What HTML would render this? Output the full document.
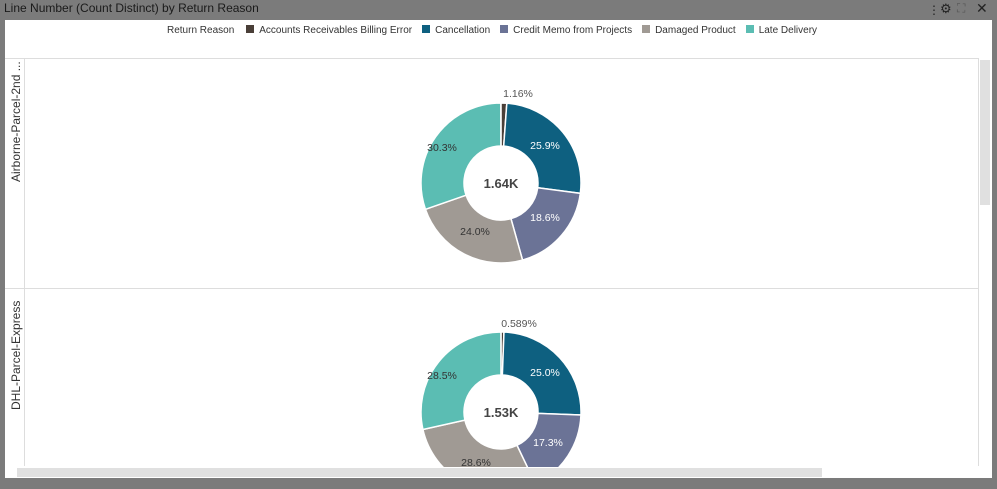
<!DOCTYPE html>
<html><head><meta charset="utf-8"><style>
body{margin:0;width:997px;height:489px;background:#7b7b7b;overflow:hidden;font-family:"Liberation Sans",sans-serif;position:relative}
.t{position:absolute;left:4px;top:1px;font-size:12px;color:#1a1a1a}
.panel{position:absolute;left:5px;top:20px;width:987px;height:458px;background:#fff}
.leg{position:absolute;top:25px;font-size:10px;color:#333;white-space:nowrap}
.sw{display:inline-block;width:8px;height:8px;margin:0 5px 0 10px;vertical-align:0}
.rl{position:absolute;font-size:12px;color:#333;transform:rotate(-90deg);transform-origin:left top;white-space:nowrap}
</style></head><body>
<div class="t">Line Number (Count Distinct) by Return Reason</div>
<div style="position:absolute;left:928px;top:3px;font-size:12px;color:#222">⋮</div>
<div style="position:absolute;left:940px;top:1px;font-size:13px;color:#222">⚙</div>
<div style="position:absolute;left:957px;top:1px;font-size:12px;color:#555">⛶</div>
<div style="position:absolute;left:976px;top:0px;font-size:14px;color:#222">✕</div>
<div class="panel"></div>
<div class="leg" style="left:167px">Return Reason<span class="sw" style="background:#4a3f38;margin-left:12px"></span>Accounts Receivables Billing Error<span class="sw" style="background:#0e6080"></span>Cancellation<span class="sw" style="background:#6b7396"></span>Credit Memo from Projects<span class="sw" style="background:#a09a94"></span>Damaged Product<span class="sw" style="background:#5bbdb3"></span>Late Delivery</div>
<div style="position:absolute;left:5px;top:58px;width:973px;height:1px;background:#ddd"></div>
<div style="position:absolute;left:5px;top:288px;width:973px;height:1px;background:#ddd"></div>
<div style="position:absolute;left:24px;top:58px;width:1px;height:408px;background:#ddd"></div>
<div style="position:absolute;left:978px;top:58px;width:1px;height:408px;background:#ddd"></div>
<div class="rl" style="left:9px;top:182px">Airborne-Parcel-2nd ...</div>
<div class="rl" style="left:9px;top:410px">DHL-Parcel-Express</div>
<div style="position:absolute;left:980px;top:60px;width:10px;height:145px;background:#e0e0e0"></div>
<div style="position:absolute;left:17px;top:468px;width:805px;height:9px;background:#e0e0e0"></div>
<svg id="s" width="997" height="489" style="position:absolute;left:0;top:0">
<defs><clipPath id="c"><rect x="25" y="289" width="953" height="178"/></clipPath></defs>
<g id="g1"></g><g id="g2" clip-path="url(#c)"></g>
</svg>
<script>
var cols=["#4a3f38","#0e6080","#6b7396","#a09a94","#5bbdb3"];
function pie(g,cx,cy,vals,labs,center){
 var R=80,r=37,a=0,h="";
 function p(rr,ang){return [cx+rr*Math.sin(ang),cy-rr*Math.cos(ang)];}
 vals.forEach(function(v,i){var a0=a*2*Math.PI/100,a1=(a+v)*2*Math.PI/100;a+=v;
  var l=(a1-a0)>Math.PI?1:0,A=p(R,a0),B=p(R,a1),C=p(r,a1),D=p(r,a0);
  h+='<path d="M'+A+'A'+R+','+R+' 0 '+l+' 1 '+B+'L'+C+'A'+r+','+r+' 0 '+l+' 0 '+D+'Z" fill="'+cols[i]+'" stroke="#fff" stroke-width="1.5"/>';});
 labs.forEach(function(t){h+='<text x="'+t[0]+'" y="'+t[1]+'" font-size="10.5" text-anchor="middle" fill="'+t[3]+'" font-family="Liberation Sans,sans-serif">'+t[2]+'</text>';});
 h+='<text x="'+cx+'" y="'+(cy+5)+'" font-size="13" font-weight="bold" text-anchor="middle" fill="#444" font-family="Liberation Sans,sans-serif">'+center+'</text>';
 document.getElementById(g).innerHTML=h;}
pie("g1",501,183,[1.16,25.9,18.6,24.0,30.3],[[518,97,"1.16%","#555"],[545,149,"25.9%","#fff"],[545,221,"18.6%","#fff"],[475,235,"24.0%","#333"],[442,151,"30.3%","#333"]],"1.64K");
pie("g2",501,412,[0.589,25.0,17.3,28.6,28.5],[[519,327,"0.589%","#555"],[545,376,"25.0%","#fff"],[548,446,"17.3%","#fff"],[476,466,"28.6%","#333"],[442,379,"28.5%","#333"]],"1.53K");
</script>
</body></html>
